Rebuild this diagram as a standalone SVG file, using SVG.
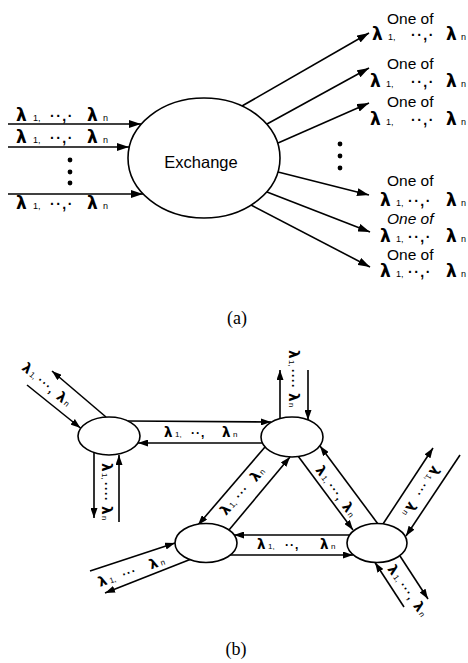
<svg xmlns="http://www.w3.org/2000/svg" width="468" height="663" viewBox="0 0 468 663">
<style>
.ln{stroke:#000;stroke-width:1.6;fill:none}
.nd{fill:#fff;stroke:#000;stroke-width:1.6}
.L{font-family:"DejaVu Sans","Liberation Sans",sans-serif;font-weight:bold;fill:#000}
.La{font-size:17px}
.Lb{font-size:13.5px}
.s{font-family:"Liberation Sans",sans-serif;font-weight:normal;font-size:9px}
.sb{font-family:"Liberation Sans",sans-serif;font-weight:normal;font-size:8px}
.d{font-family:"Liberation Sans",sans-serif;font-weight:bold;font-size:14px;letter-spacing:1.5px}
.db{font-family:"Liberation Sans",sans-serif;font-weight:bold;font-size:12px;letter-spacing:1px}
.t{font-family:"Liberation Sans",Arial,sans-serif;font-size:15.5px;fill:#000}
.cap{font-family:"Liberation Serif","Times New Roman",serif;font-size:18px;fill:#000}
.dot{fill:#000}
</style>
<defs>
<marker id="ah" viewBox="0 0 12 8" refX="12" refY="4" markerWidth="12" markerHeight="8" markerUnits="userSpaceOnUse" orient="auto"><path d="M0,0 L12,4 L0,8 z" fill="#000"/></marker>
<marker id="as" viewBox="0 0 10 7" refX="10" refY="3.5" markerWidth="10" markerHeight="7" markerUnits="userSpaceOnUse" orient="auto"><path d="M0,0 L10,3.5 L0,7 z" fill="#000"/></marker>
</defs>

<!-- (a) -->
<g id="a-connectors" class="ln" marker-end="url(#ah)">
<line x1="8" y1="124" x2="141" y2="124"/>
<line x1="8" y1="147" x2="129" y2="147"/>
<line x1="8" y1="194" x2="143" y2="194"/>
<line x1="242" y1="106" x2="369" y2="33"/>
<line x1="267" y1="124" x2="369" y2="68"/>
<line x1="278" y1="143" x2="369" y2="103"/>
<line x1="278" y1="172" x2="369" y2="195"/>
<line x1="267" y1="192" x2="370" y2="232"/>
<line x1="251" y1="205" x2="370" y2="267"/>
</g>
<g id="exchange">
<ellipse class="nd" cx="204" cy="158" rx="76" ry="60"/>
<text class="t" x="201" y="168" text-anchor="middle" style="font-size:16.5px">Exchange</text>
</g>
<g id="a-inputs">
<text class="L La" y="121"><tspan x="16">λ</tspan><tspan class="s" x="33">1,</tspan><tspan class="d" x="50">··,·</tspan><tspan x="87">λ</tspan><tspan class="s" x="103">n</tspan></text>
<text class="L La" y="143"><tspan x="16">λ</tspan><tspan class="s" x="33">1,</tspan><tspan class="d" x="50">··,·</tspan><tspan x="87">λ</tspan><tspan class="s" x="103">n</tspan></text>
<text class="L La" y="209"><tspan x="16">λ</tspan><tspan class="s" x="33">1,</tspan><tspan class="d" x="50">··,·</tspan><tspan x="87">λ</tspan><tspan class="s" x="103">n</tspan></text>
<circle class="dot" cx="70" cy="160" r="2.4"/>
<circle class="dot" cx="70" cy="172" r="2.4"/>
<circle class="dot" cx="70" cy="183" r="2.4"/>
</g>
<g id="a-outputs">
<text class="t" x="387" y="24">One of</text>
<text class="L La" y="40"><tspan x="372">λ</tspan><tspan class="s" x="388">1,</tspan><tspan class="d" x="411">··,·</tspan><tspan x="446">λ</tspan><tspan class="s" x="461">n</tspan></text>
<text class="t" x="387" y="69">One of</text>
<text class="L La" y="87"><tspan x="370">λ</tspan><tspan class="s" x="386">1,</tspan><tspan class="d" x="411">··,·</tspan><tspan x="446">λ</tspan><tspan class="s" x="461">n</tspan></text>
<text class="t" x="387" y="107">One of</text>
<text class="L La" y="125"><tspan x="370">λ</tspan><tspan class="s" x="386">1,</tspan><tspan class="d" x="411">··,·</tspan><tspan x="446">λ</tspan><tspan class="s" x="461">n</tspan></text>
<circle class="dot" cx="340" cy="144" r="2.4"/>
<circle class="dot" cx="340" cy="156" r="2.4"/>
<circle class="dot" cx="340" cy="168" r="2.4"/>
<text class="t" x="387" y="186">One of</text>
<text class="L La" y="206"><tspan x="380">λ</tspan><tspan class="s" x="396">1,</tspan><tspan class="d" x="408">··,·</tspan><tspan x="446">λ</tspan><tspan class="s" x="461">n</tspan></text>
<text class="t" x="387" y="224" style="font-style:italic">One of</text>
<text class="L La" y="242"><tspan x="380">λ</tspan><tspan class="s" x="396">1,</tspan><tspan class="d" x="408">··,·</tspan><tspan x="446">λ</tspan><tspan class="s" x="461">n</tspan></text>
<text class="t" x="387" y="260">One of</text>
<text class="L La" y="277"><tspan x="380">λ</tspan><tspan class="s" x="396">1,</tspan><tspan class="d" x="408">··,·</tspan><tspan x="446">λ</tspan><tspan class="s" x="461">n</tspan></text>
</g>
<text class="cap" x="237" y="324" text-anchor="middle">(a)</text>

<!-- (b) -->
<g id="b-connectors" class="ln" marker-end="url(#as)">
<line x1="27" y1="385" x2="80.5" y2="428"/>
<line x1="106" y1="417" x2="52" y2="371"/>
<line x1="128" y1="421" x2="271" y2="422"/>
<line x1="262" y1="443" x2="138" y2="443"/>
<line x1="94" y1="453" x2="94" y2="518"/>
<line x1="119" y1="522" x2="119" y2="455"/>
<line x1="280" y1="418" x2="280" y2="370"/>
<line x1="308" y1="370" x2="308" y2="420"/>
<line x1="265" y1="447" x2="198" y2="525"/>
<line x1="229" y1="530" x2="290" y2="457"/>
<line x1="298" y1="456" x2="353" y2="530"/>
<line x1="378" y1="524" x2="320" y2="446"/>
<line x1="383" y1="524" x2="433" y2="448"/>
<line x1="460" y1="455" x2="406" y2="536"/>
<line x1="400" y1="556" x2="428" y2="599"/>
<line x1="404" y1="607" x2="375" y2="562.5"/>
<line x1="349" y1="535" x2="234" y2="535"/>
<line x1="230" y1="555" x2="353" y2="555"/>
<line x1="90" y1="571" x2="175" y2="543"/>
<line x1="190" y1="559.5" x2="105" y2="593"/>
</g>
<g id="node-A"><ellipse class="nd" cx="109" cy="436" rx="31" ry="19"/></g>
<g id="node-B"><ellipse class="nd" cx="292" cy="437" rx="31" ry="20"/></g>
<g id="node-C"><ellipse class="nd" cx="206" cy="543" rx="31" ry="19.5"/></g>
<g id="node-D"><ellipse class="nd" cx="377" cy="543" rx="30" ry="19.5"/></g>
<g id="b-labels">
<text class="L Lb" transform="translate(21,369) rotate(40)"><tspan x="0">λ</tspan><tspan class="sb" x="10">1,</tspan><tspan class="db" x="20">···,</tspan><tspan x="45">λ</tspan><tspan class="sb" x="55">n</tspan></text>
<text class="L Lb" transform="translate(164,437)"><tspan x="0">λ</tspan><tspan class="sb" x="11">1,</tspan><tspan class="db" x="27">··,</tspan><tspan x="58">λ</tspan><tspan class="sb" x="69">n</tspan></text>
<text class="L Lb" transform="translate(102,463) rotate(90)"><tspan x="0">λ</tspan><tspan class="sb" x="10">1,</tspan><tspan class="db" x="19">····</tspan><tspan x="43">λ</tspan><tspan class="sb" x="53">n</tspan></text>
<text class="L Lb" transform="translate(289,350) rotate(90)"><tspan x="0">λ</tspan><tspan class="sb" x="10">1,</tspan><tspan class="db" x="19">····</tspan><tspan x="43">λ</tspan><tspan class="sb" x="53">n</tspan></text>
<text class="L Lb" transform="translate(226,516) rotate(-48)"><tspan x="0">λ</tspan><tspan class="sb" x="10">1,</tspan><tspan class="db" x="21">···</tspan><tspan x="45">λ</tspan><tspan class="sb" x="55">n</tspan></text>
<text class="L Lb" transform="translate(315,470) rotate(54)"><tspan x="0">λ</tspan><tspan class="sb" x="10">1,</tspan><tspan class="db" x="20">···,</tspan><tspan x="45">λ</tspan><tspan class="sb" x="55">n</tspan></text>
<text class="L Lb" transform="translate(433,465) rotate(123)"><tspan x="0">λ</tspan><tspan class="sb" x="10">1,</tspan><tspan class="db" x="20">···</tspan><tspan x="43">λ</tspan><tspan class="sb" x="53">n</tspan></text>
<text class="L Lb" transform="translate(257,549)"><tspan x="0">λ</tspan><tspan class="sb" x="11">1,</tspan><tspan class="db" x="28">··,</tspan><tspan x="63">λ</tspan><tspan class="sb" x="74">n</tspan></text>
<text class="L Lb" transform="translate(100,587) rotate(-19)"><tspan x="0">λ</tspan><tspan class="sb" x="11">1,</tspan><tspan class="db" x="25">···</tspan><tspan x="54">λ</tspan><tspan class="sb" x="65">n</tspan></text>
<text class="L Lb" transform="translate(387,569) rotate(55)"><tspan x="0">λ</tspan><tspan class="sb" x="10">1,</tspan><tspan class="db" x="20">···,</tspan><tspan x="45">λ</tspan><tspan class="sb" x="55">n</tspan></text>
</g>
<text class="cap" x="236" y="655" text-anchor="middle">(b)</text>
</svg>
